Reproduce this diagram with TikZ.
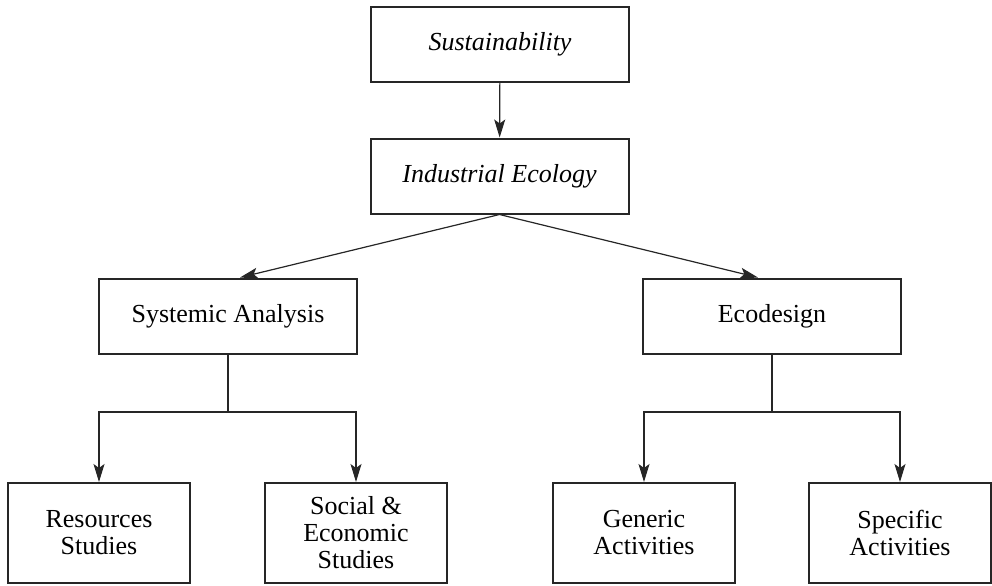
\documentclass[tikz,border=0pt]{standalone}
\usepackage{fontspec}
\setmainfont{Liberation Serif}
\usetikzlibrary{arrows.meta}

\begin{document}
\begin{tikzpicture}[x=0.5pt,y=0.5pt]
    \tikzstyle{every node}+=[inner sep=0pt]
    \tikzstyle{box}=[draw=black!85, line width=1pt, align=center, font=\fontsize{13}{13.5}\selectfont]
    \tikzstyle{topbox}=[box, minimum width=129pt, minimum height=37.5pt]
    \tikzstyle{leafbox}=[box, minimum width=91pt, minimum height=50pt]
    \tikzstyle{link}=[draw=black!85, line width=0.6pt, -{Stealth[length=9pt,width=5.5pt,inset=2pt]}]
    \useasboundingbox (0,0) rectangle (992,-585);
    % top levels
    \node [topbox] (sust) at (500,-44.5) {\itshape Sustainability};
    \node [topbox] (indeco) at (499.5,-176) {\itshape Industrial Ecology};
    \node [topbox] (sysan) at (228,-316) {Systemic Analysis};
    \node [topbox] (ecod) at (772,-316) {Ecodesign};
    % leaves
    \node [leafbox] (resst) at (99,-533) {Resources\\Studies};
    \node [leafbox] (socst) at (356,-533) {Social \&\\Economic\\Studies};
    \node [leafbox] (genact) at (644,-533) {Generic\\Activities};
    \node [leafbox] (specact) at (900,-533) {Specific\\Activities};
    \coordinate (sysfork) at (228,-412);
    \coordinate (ecofork) at (772,-412);
    % connectors
    \draw [link] (sust) -- (indeco);
    \draw [link] (indeco.south) -- ([xshift=6pt]sysan.north);
    \draw [link] (indeco.south) -- ([xshift=-7pt]ecod.north);
    \draw [draw=black!85, line width=0.6pt] (sysan.south) -- (sysfork);
    \draw [link] (sysfork) -| (resst.north);
    \draw [link] (sysfork) -| (socst.north);
    \draw [draw=black!85, line width=0.6pt] (ecod.south) -- (ecofork);
    \draw [link] (ecofork) -| (genact.north);
    \draw [link] (ecofork) -| (specact.north);
\end{tikzpicture}
\end{document}
